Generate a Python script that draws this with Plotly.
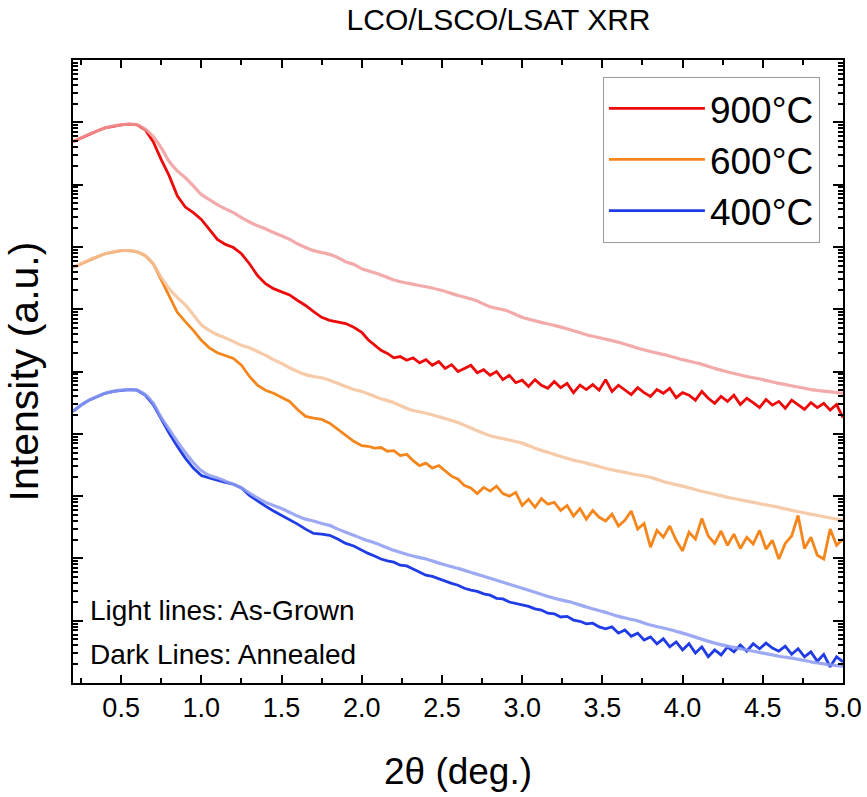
import numpy as np
import plotly.graph_objects as go

# x grids (2-theta, deg.)
x_smooth = [0.2, 0.25, 0.3, 0.35, 0.4, 0.45, 0.5, 0.55, 0.6, 0.65, 0.7, 0.75, 0.8, 0.85, 0.9, 0.95,
            1.0, 1.05, 1.1, 1.15, 1.2, 1.25, 1.3, 1.35, 1.4, 1.45, 1.5, 1.55, 1.6, 1.65, 1.7, 1.75,
            1.8, 1.85, 1.9, 1.95, 2.0, 2.1, 2.2, 2.3, 2.4, 2.5, 2.6, 2.7, 2.8, 2.9, 3.0, 3.1, 3.2,
            3.3, 3.4, 3.5, 3.6, 3.7, 3.8, 3.9, 4.0, 4.1, 4.2, 4.3, 4.4, 4.5, 4.6, 4.7, 4.8, 4.9, 5.0]

x_dark = [0.2, 0.25, 0.3, 0.35, 0.4, 0.45, 0.5, 0.55, 0.6, 0.65, 0.7, 0.75, 0.8, 0.85, 0.9, 0.95,
          1.0, 1.05, 1.1, 1.15, 1.2, 1.25, 1.3, 1.35, 1.4, 1.45, 1.5, 1.55, 1.6, 1.65, 1.7, 1.75,
          1.8, 1.85, 1.9, 1.95, 2.0,
          2.04, 2.08, 2.12, 2.16, 2.2, 2.24, 2.28, 2.32, 2.36, 2.4, 2.44, 2.48, 2.52, 2.56, 2.6,
          2.64, 2.68, 2.72, 2.76, 2.8, 2.84, 2.88, 2.92, 2.96, 3.0, 3.04, 3.08, 3.12, 3.16, 3.2,
          3.24, 3.28, 3.32, 3.36, 3.4, 3.44, 3.48, 3.52, 3.56, 3.6, 3.64, 3.68, 3.72, 3.76, 3.8,
          3.84, 3.88, 3.92, 3.96, 4.0, 4.04, 4.08, 4.12, 4.16, 4.2, 4.24, 4.28, 4.32, 4.36, 4.4,
          4.44, 4.48, 4.52, 4.56, 4.6, 4.64, 4.68, 4.72, 4.76, 4.8, 4.84, 4.88, 4.92, 4.96, 5.0]

# log10(intensity), as-grown (light lines)
log_900_grown = [8.69, 8.75, 8.81, 8.86, 8.91, 8.94, 8.96, 8.97, 8.96, 8.89, 8.77, 8.59, 8.37, 8.22,
                 8.11, 7.98, 7.84, 7.76, 7.68, 7.61, 7.55, 7.47, 7.40, 7.34, 7.29, 7.23, 7.18, 7.12,
                 7.05, 6.99, 6.94, 6.91, 6.88, 6.83, 6.76, 6.72, 6.65,
                 6.57, 6.47, 6.41, 6.36, 6.30, 6.22, 6.15, 6.04, 5.98, 5.87, 5.80, 5.74, 5.67, 5.59,
                 5.53, 5.47, 5.39, 5.32, 5.26, 5.19, 5.13, 5.05, 4.98, 4.92, 4.87, 4.81, 4.76, 4.71,
                 4.68, 4.65]
log_600_grown = [6.67, 6.73, 6.79, 6.84, 6.89, 6.92, 6.94, 6.94, 6.92, 6.86, 6.73, 6.51, 6.33, 6.19,
                 6.07, 5.91, 5.75, 5.66, 5.59, 5.54, 5.48, 5.42, 5.38, 5.32, 5.26, 5.19, 5.13, 5.06,
                 5.00, 4.95, 4.92, 4.90, 4.86, 4.81, 4.76, 4.71, 4.68,
                 4.58, 4.50, 4.39, 4.33, 4.26, 4.18, 4.07, 3.97, 3.91, 3.85, 3.75, 3.67, 3.59, 3.53,
                 3.46, 3.40, 3.35, 3.30, 3.22, 3.16, 3.09, 3.03, 2.97, 2.92, 2.87, 2.82, 2.76, 2.71,
                 2.66, 2.61]
log_400_grown = [4.36, 4.46, 4.54, 4.60, 4.65, 4.68, 4.70, 4.71, 4.70, 4.63, 4.49, 4.26, 4.07, 3.88,
                 3.70, 3.54, 3.41, 3.33, 3.29, 3.24, 3.19, 3.13, 3.05, 2.97, 2.90, 2.85, 2.80, 2.74,
                 2.68, 2.63, 2.60, 2.56, 2.53, 2.47, 2.42, 2.37, 2.32,
                 2.23, 2.13, 2.05, 1.99, 1.91, 1.84, 1.76, 1.68, 1.60, 1.52, 1.44, 1.36, 1.30, 1.22,
                 1.15, 1.07, 1.01, 0.93, 0.87, 0.80, 0.72, 0.64, 0.58, 0.53, 0.48, 0.43, 0.39, 0.34,
                 0.30, 0.27]

# log10(intensity), annealed (dark lines)
log_900_annealed = [8.69, 8.75, 8.81, 8.86, 8.91, 8.94, 8.96, 8.97, 8.96, 8.88, 8.69, 8.40, 8.14, 7.82,
                    7.64, 7.55, 7.44, 7.28, 7.12, 7.04, 6.99, 6.89, 6.73, 6.54, 6.41, 6.33, 6.28, 6.23,
                    6.14, 6.06, 5.96, 5.87, 5.82, 5.80, 5.77, 5.71, 5.63,
                    5.51, 5.43, 5.34, 5.29, 5.22, 5.24, 5.18, 5.22, 5.14, 5.19,
                    5.10, 5.16, 5.05, 5.11, 5.00, 5.05, 5.10, 4.98, 5.03, 4.94,
                    5.00, 4.87, 4.94, 4.82, 4.86, 4.76, 4.87, 4.78, 4.73, 4.84,
                    4.74, 4.81, 4.66, 4.78, 4.71, 4.79, 4.70, 4.87, 4.68, 4.78,
                    4.71, 4.63, 4.74, 4.66, 4.60, 4.71, 4.65, 4.73, 4.58, 4.66,
                    4.62, 4.54, 4.68, 4.57, 4.49, 4.60, 4.52, 4.62, 4.47, 4.57,
                    4.50, 4.42, 4.55, 4.46, 4.52, 4.41, 4.54, 4.46, 4.39, 4.50,
                    4.42, 4.49, 4.38, 4.47, 4.26]
log_600_annealed = [6.67, 6.73, 6.79, 6.84, 6.89, 6.92, 6.94, 6.94, 6.92, 6.86, 6.73, 6.47, 6.20, 5.95,
                    5.80, 5.66, 5.50, 5.38, 5.30, 5.26, 5.21, 5.10, 4.92, 4.78, 4.70, 4.65, 4.58, 4.52,
                    4.39, 4.28, 4.25, 4.23, 4.17, 4.07, 3.97, 3.88, 3.81,
                    3.80, 3.77, 3.78, 3.72, 3.73, 3.65, 3.67, 3.57, 3.49, 3.53,
                    3.45, 3.49, 3.40, 3.32, 3.27, 3.17, 3.13, 3.04, 3.14, 3.08,
                    3.16, 3.04, 3.00, 3.06, 2.85, 2.95, 2.82, 2.96, 2.87, 2.90,
                    2.77, 2.85, 2.68, 2.80, 2.63, 2.77, 2.66, 2.60, 2.71, 2.52,
                    2.61, 2.76, 2.47, 2.56, 2.18, 2.45, 2.34, 2.52, 2.29, 2.12,
                    2.42, 2.31, 2.64, 2.36, 2.24, 2.44, 2.21, 2.39, 2.16, 2.34,
                    2.23, 2.45, 2.15, 2.29, 1.99, 2.24, 2.36, 2.69, 2.16, 2.34,
                    2.05, 1.99, 2.47, 2.21, 2.31]
log_400_annealed = [4.36, 4.46, 4.54, 4.60, 4.65, 4.68, 4.70, 4.71, 4.70, 4.62, 4.47, 4.23, 4.01, 3.80,
                    3.61, 3.45, 3.33, 3.29, 3.25, 3.22, 3.19, 3.13, 3.01, 2.92, 2.84, 2.76, 2.69, 2.63,
                    2.55, 2.47, 2.40, 2.39, 2.37, 2.31, 2.24, 2.20, 2.13,
                    2.08, 2.04, 1.99, 1.96, 1.94, 1.89, 1.88, 1.83, 1.78, 1.73,
                    1.71, 1.67, 1.63, 1.60, 1.57, 1.52, 1.49, 1.47, 1.43, 1.41,
                    1.36, 1.35, 1.30, 1.28, 1.25, 1.23, 1.19, 1.17, 1.12, 1.11,
                    1.06, 1.07, 1.01, 0.99, 0.95, 0.96, 0.90, 0.87, 0.90, 0.80,
                    0.85, 0.75, 0.80, 0.69, 0.74, 0.63, 0.71, 0.58, 0.66, 0.53,
                    0.63, 0.48, 0.58, 0.42, 0.53, 0.45, 0.58, 0.50, 0.61, 0.51,
                    0.63, 0.55, 0.64, 0.56, 0.51, 0.59, 0.46, 0.55, 0.42, 0.50,
                    0.35, 0.46, 0.26, 0.42, 0.34]

labels = ["900°C", "600°C", "400°C"]
dark_colors = ["#ee0a0a", "#f5861c", "#1f3ce6"]
light_colors = ["#f09c9c", "#f5c29c", "#8d9cf2"]

grown = [log_900_grown, log_600_grown, log_400_grown]
annealed = [log_900_annealed, log_600_annealed, log_400_annealed]

FONT = "Liberation Sans, Arial, sans-serif"

fig = go.Figure()
for i in range(3):
    fig.add_trace(go.Scatter(
        x=x_dark, y=10 ** np.array(annealed[i]), mode="lines", name=labels[i],
        line=dict(color=dark_colors[i], width=2.8), showlegend=True))
for i in range(3):
    fig.add_trace(go.Scatter(
        x=x_smooth, y=10 ** np.array(grown[i]), mode="lines", name=labels[i] + " as-grown",
        line=dict(color=light_colors[i], width=3.2, shape="spline", smoothing=0.6),
        opacity=0.85, showlegend=False))

major_y = [10.0 ** k for k in range(0, 11)]
minor_y = [m * 10.0 ** k for k in range(0, 10) for m in range(2, 10)]

fig.update_layout(
    width=867, height=797,
    margin=dict(l=73, r=24, t=60, b=114, autoexpand=False),
    paper_bgcolor="white", plot_bgcolor="white",
    font=dict(family=FONT, color="black"),
    title=dict(text="LCO/LSCO/LSAT XRR", x=0.575, xanchor="center", y=0.975, yanchor="middle",
               font=dict(size=30, family=FONT, color="black")),
    showlegend=True,
    legend=dict(x=0.97, xanchor="right", y=0.973, yanchor="top",
                bgcolor="white", bordercolor="#9a9a9a", borderwidth=1,
                font=dict(size=37, family=FONT, color="black"),
                traceorder="normal", itemwidth=96),
    annotations=[
        dict(text="Light lines: As-Grown", xref="paper", yref="paper", x=0.019, y=0.117,
             xanchor="left", yanchor="middle", showarrow=False,
             font=dict(size=28, family=FONT, color="black")),
        dict(text="Dark Lines: Annealed", xref="paper", yref="paper", x=0.019, y=0.045,
             xanchor="left", yanchor="middle", showarrow=False,
             font=dict(size=28, family=FONT, color="black")),
    ],
)

fig.update_xaxes(
    range=[0.2, 5.0], tickmode="array", automargin=False,
    tickvals=[0.5, 1.0, 1.5, 2.0, 2.5, 3.0, 3.5, 4.0, 4.5, 5.0],
    ticktext=["0.5", "1.0", "1.5", "2.0", "2.5", "3.0", "3.5", "4.0", "4.5", "5.0"],
    ticks="inside", ticklen=8, tickwidth=2, tickcolor="black",
    minor=dict(tickvals=[0.25, 0.75, 1.25, 1.75, 2.25, 2.75, 3.25, 3.75, 4.25, 4.75],
               ticks="inside", ticklen=5, tickwidth=2, tickcolor="black", showgrid=False),
    showline=True, linecolor="black", linewidth=2, mirror="allticks",
    showgrid=False, zeroline=False,
    tickfont=dict(size=27, family=FONT, color="black"),
    title=dict(text="2θ (deg.)", font=dict(size=37, family=FONT, color="black"), standoff=36),
)
fig.update_yaxes(
    type="log", range=[0, 10], tickmode="array", tickvals=major_y, automargin=False,
    showticklabels=False,
    ticks="inside", ticklen=10, tickwidth=2, tickcolor="black",
    minor=dict(tickvals=minor_y, ticks="inside", ticklen=5, tickwidth=1.5, tickcolor="black",
               showgrid=False),
    showline=True, linecolor="black", linewidth=2, mirror="allticks",
    showgrid=False, zeroline=False,
    title=dict(text="Intensity (a.u.)", font=dict(size=41, family=FONT, color="black"), standoff=20),
)

fig.write_html("out.html")
